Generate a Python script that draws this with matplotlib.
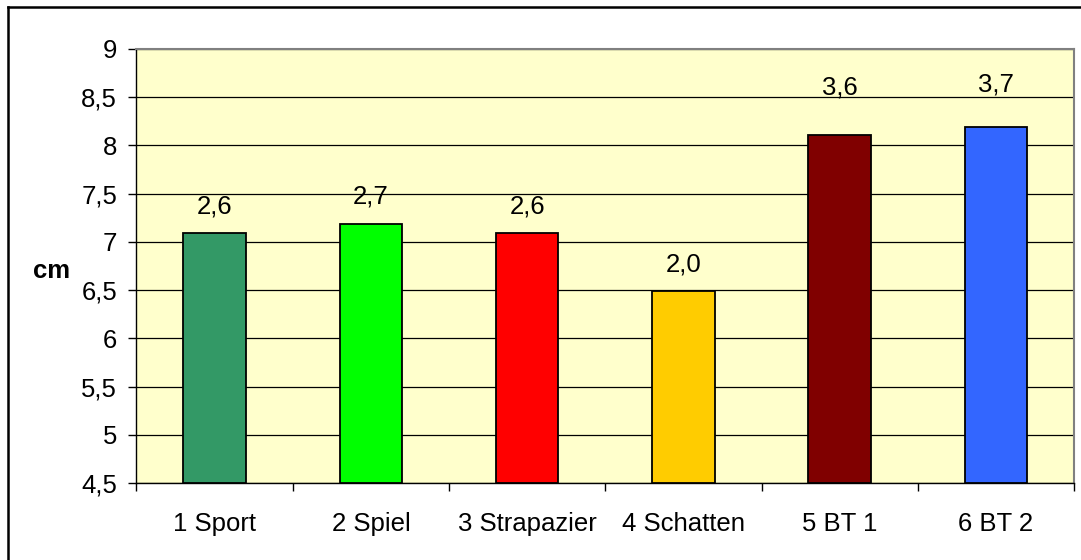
import matplotlib
matplotlib.use('Agg')
import matplotlib.pyplot as plt
from matplotlib.lines import Line2D
from matplotlib.ticker import FuncFormatter, MultipleLocator, FixedLocator

plt.rcParams['font.family'] = ['Liberation Sans', 'DejaVu Sans']

# data
categories = ['1 Sport', '2 Spiel', '3 Strapazier', '4 Schatten', '5 BT 1', '6 BT 2']
bar_tops = [7.09, 7.19, 7.09, 6.49, 8.11, 8.19]
value_labels = ['2,6', '2,7', '2,6', '2,0', '3,6', '3,7']
bar_colors = ['#339966', '#00FF00', '#FF0000', '#FFCC00', '#800000', '#3366FF']
y_base = 4.5
y_top = 9

W, H = 1081, 560
fs = 18.5
fig = plt.figure(figsize=(W / 100, H / 100), dpi=100)
ax = fig.add_axes([136.5 / W, 1 - 483 / H, (1074 - 136.5) / W, (483 - 49) / H])
ax.set_facecolor('#FFFFCC')

x = list(range(len(categories)))
heights = [t - y_base for t in bar_tops]
bars = ax.bar(x, heights, bottom=y_base, width=0.40, color=bar_colors,
              edgecolor='black', linewidth=1.3, zorder=3)

# label gaps above bars (points), labels 5 and 6 sit higher in the original
label_gap = [14.5, 14.5, 14.5, 14, 28.8, 26]
for xi, top, lab, g in zip(x, bar_tops, value_labels, label_gap):
    ax.annotate(lab, (xi, top), xytext=(0, g), textcoords='offset points',
                ha='center', va='baseline', fontsize=fs, zorder=4)

ax.set_xlim(-0.5, len(categories) - 0.5)
ax.set_ylim(y_base, y_top)
ax.yaxis.set_major_locator(MultipleLocator(0.5))
ax.yaxis.set_major_formatter(FuncFormatter(lambda v, p: ('%g' % v).replace('.', ',')))
ax.grid(axis='y', color='black', linewidth=0.9, zorder=1)
ax.set_axisbelow(True)

ax.set_xticks(x)
ax.set_xticklabels(categories)
ax.xaxis.set_minor_locator(FixedLocator([i - 0.5 for i in range(len(categories) + 1)]))
ax.tick_params(axis='x', which='major', length=0, pad=21, labelsize=fs)
ax.tick_params(axis='x', which='minor', length=6, width=1, direction='out')
ax.tick_params(axis='y', length=6, width=1, direction='out', pad=8, labelsize=fs)

ax.set_ylabel('cm', rotation=0, fontsize=fs, fontweight='bold', ha='center', va='baseline')
ax.yaxis.set_label_coords((52 - 136.5) / (1074 - 136.5), (483 - 278) / (483 - 49))

for s in ['left', 'bottom']:
    ax.spines[s].set_color('black')
    ax.spines[s].set_linewidth(1)
for s in ['top', 'right']:
    ax.spines[s].set_color('#808080')
    ax.spines[s].set_linewidth(1.5)

# outer chart frame (right and bottom edges fall outside the picture)
fig.add_artist(Line2D([8 / W, 1.0], [1 - 7 / H, 1 - 7 / H], color='black', linewidth=1.8))
fig.add_artist(Line2D([8 / W, 8 / W], [0.0, 1 - 7 / H], color='black', linewidth=1.8))

fig.savefig('out.png', dpi=100, facecolor='white')
